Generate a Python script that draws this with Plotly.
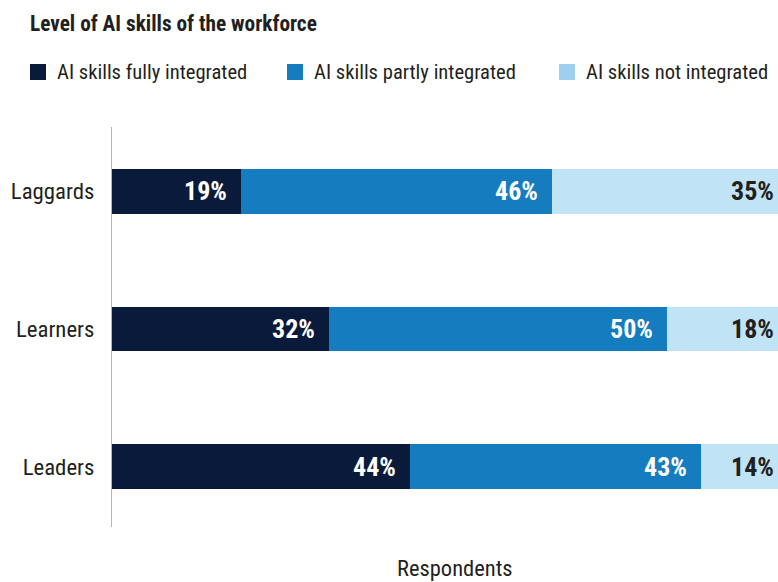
import plotly.graph_objects as go

# Survey groups and share of respondents per AI-skills level (%)
groups = ["Laggards", "Learners", "Leaders"]
fully = [19, 32, 44]
partly = [46, 50, 43]
not_integrated = [35, 18, 14]

series_names = ["AI skills fully integrated", "AI skills partly integrated", "AI skills not integrated"]
bar_colors = ["#0a1a3a", "#157cc0", "#c0e3f6"]
key_colors = ["#0a1a3a", "#157cc0", "#9ccff0"]
label_colors = ["#ffffff", "#ffffff", "#231f20"]

FONT = "Roboto Condensed, Liberation Sans Narrow, Arial Narrow, sans-serif"
TEXT = "#231f20"

W, H = 778, 582
ML, MR, MT, MB = 112, 0, 127, 55
PW, PH = W - ML - MR, H - MT - MB


def px_x(x):
    return (x - ML) / PW


def px_y(y):
    return (H - MB - y) / PH


fig = go.Figure()
values = [fully, partly, not_integrated]
for name, vals, col in zip(series_names, values, bar_colors):
    fig.add_trace(go.Bar(
        y=groups, x=vals, name=name, orientation="h",
        marker=dict(color=col, line=dict(width=0)),
        width=0.326, showlegend=False, hoverinfo="x+name",
    ))

annotations = []
# value labels: first two segments right-aligned inside their segment end
for k in range(2):
    for i, g in enumerate(groups):
        end = sum(values[j][i] for j in range(k + 1))
        annotations.append(dict(
            x=end, y=g, xref="x", yref="y", text=f"{values[k][i]}%",
            xanchor="right", yanchor="middle", xshift=-12, showarrow=False,
            font=dict(family=FONT, size=26, color=label_colors[k], weight="bold"),
        ))
# last segment labels sit at the right edge of the plot
for i, g in enumerate(groups):
    annotations.append(dict(
        x=1, y=g, xref="paper", yref="y", text=f"{not_integrated[i]}%",
        xanchor="right", yanchor="middle", xshift=-2, showarrow=False,
        font=dict(family=FONT, size=26, color=label_colors[2], weight="bold"),
    ))

# title
annotations.append(dict(
    x=px_x(28), y=px_y(23), xref="paper", yref="paper",
    text="Level of AI skills of the workforce", xanchor="left", yanchor="middle",
    showarrow=False, font=dict(family=FONT, size=21.3, color=TEXT, weight="bold"),
))

# key
shapes = []
key_x = [30, 287, 559]
for name, col, kx in zip(series_names, key_colors, key_x):
    shapes.append(dict(
        type="rect", xref="paper", yref="paper",
        x0=px_x(kx), x1=px_x(kx + 16), y0=px_y(80), y1=px_y(64),
        fillcolor=col, line=dict(width=0),
    ))
    annotations.append(dict(
        x=px_x(kx + 25), y=px_y(72), xref="paper", yref="paper", text=name,
        xanchor="left", yanchor="middle", showarrow=False,
        font=dict(family=FONT, size=20.6, color=TEXT),
    ))

# axis caption
annotations.append(dict(
    x=px_x(455), y=px_y(568), xref="paper", yref="paper", text="Respondents",
    xanchor="center", yanchor="middle", showarrow=False,
    font=dict(family=FONT, size=22.5, color=TEXT),
))

fig.update_layout(
    width=W, height=H, barmode="stack",
    margin=dict(l=ML, r=MR, t=MT, b=MB),
    paper_bgcolor="white", plot_bgcolor="white",
    showlegend=False,
    annotations=annotations, shapes=shapes,
    xaxis=dict(range=[0, PW / 6.77], visible=False, fixedrange=True),
    yaxis=dict(
        categoryorder="array", categoryarray=groups, automargin=False,
        range=[2.435, -0.464], showline=True, linecolor="#b5b5b5", linewidth=1,
        showgrid=False, zeroline=False, ticks="", ticklabelstandoff=12,
        tickfont=dict(family=FONT, size=22.8, color=TEXT), fixedrange=True,
    ),
    font=dict(family=FONT, color=TEXT),
)

fig.write_html("out.html")
